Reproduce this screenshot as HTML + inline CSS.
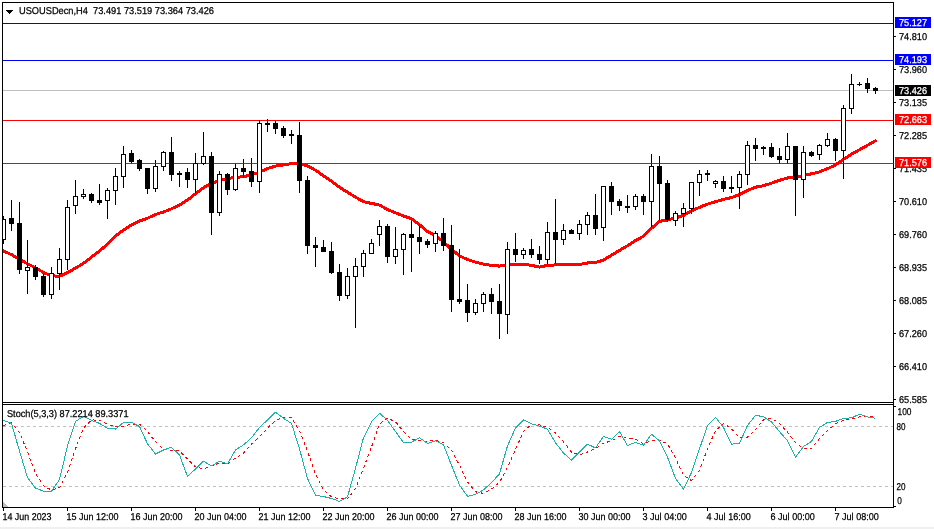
<!DOCTYPE html>
<html><head><meta charset="utf-8"><title>USOUSDecn,H4</title>
<style>html,body{margin:0;padding:0;background:#fff;overflow:hidden}svg{display:block}text{font-family:"Liberation Sans",sans-serif;font-size:9.9px;text-rendering:geometricPrecision}</style>
</head><body>
<svg width="934" height="529" viewBox="0 0 934 529">
<rect x="0" y="0" width="934" height="529" fill="#ffffff"/>
<rect x="0" y="527" width="934" height="2" fill="#f0f0f0"/>
<defs><clipPath id="cm"><rect x="3" y="3" width="890" height="399"/></clipPath><clipPath id="cs"><rect x="3" y="405" width="890" height="102"/></clipPath></defs>
<g shape-rendering="crispEdges">
<rect x="3" y="23" width="890" height="1" fill="#0000ff"/>
<rect x="3" y="60" width="890" height="1" fill="#0000ff"/>
<rect x="3" y="90" width="890" height="1" fill="#c0c0c0"/>
<rect x="3" y="120" width="890" height="1" fill="#ff0000"/>
<rect x="3" y="163" width="890" height="1" fill="#ff0000"/>
</g>
<g clip-path="url(#cm)"><polyline points="3.5,251.0 11.5,254.6 19.5,259.4 27.5,263.8 35.5,267.8 43.5,272.5 51.5,275.8 59.5,276.3 67.5,272.6 75.5,268.1 83.5,263.3 91.5,257.1 99.5,251.1 107.5,244.0 115.5,236.1 123.5,230.1 131.5,224.8 139.5,221.1 147.5,218.2 155.5,214.5 163.5,212.0 171.5,208.8 179.5,205.0 187.5,200.0 195.5,193.8 203.5,187.7 211.5,183.5 219.5,180.5 227.5,178.6 235.5,177.3 243.5,176.8 251.5,174.6 259.5,172.2 267.5,168.5 275.5,166.1 283.5,164.9 291.5,163.6 299.5,163.5 307.5,166.0 315.5,170.2 323.5,175.8 331.5,181.3 339.5,187.3 347.5,192.2 355.5,197.2 363.5,201.7 371.5,203.4 379.5,205.1 387.5,209.5 395.5,212.8 403.5,216.0 411.5,218.7 419.5,224.7 427.5,231.5 435.5,235.5 443.5,241.9 451.5,249.3 459.5,255.9 467.5,259.6 475.5,262.1 483.5,264.1 491.5,265.4 499.5,266.1 507.5,264.9 515.5,264.1 523.5,264.1 531.5,265.4 539.5,267.1 547.5,265.4 555.5,264.9 563.5,264.9 571.5,264.1 579.5,264.4 587.5,263.0 595.5,262.4 603.5,260.1 611.5,255.2 619.5,250.4 627.5,245.7 635.5,240.6 643.5,236.2 651.5,228.3 659.5,221.4 667.5,219.8 675.5,217.9 683.5,215.4 691.5,211.0 699.5,207.3 707.5,204.1 715.5,201.7 723.5,199.4 731.5,197.5 739.5,194.6 747.5,190.5 755.5,187.2 763.5,185.7 771.5,183.2 779.5,180.3 787.5,178.0 795.5,177.5 803.5,175.6 811.5,173.8 819.5,171.9 827.5,168.7 835.5,165.0 843.5,159.3 851.5,154.2 859.5,149.7 867.5,145.3 875.5,140.7" fill="none" stroke="#ff0000" stroke-width="3" stroke-linejoin="round" stroke-linecap="round" shape-rendering="crispEdges"/></g>
<g clip-path="url(#cm)" shape-rendering="crispEdges">
<rect x="3" y="216" width="1" height="28" fill="#000"/>
<rect x="1" y="219" width="5" height="21" fill="#000"/>
<rect x="2" y="220" width="3" height="19" fill="#fff"/>
<rect x="11" y="200" width="1" height="31" fill="#000"/>
<rect x="9" y="218" width="5" height="6" fill="#000"/>
<rect x="19" y="202" width="1" height="72" fill="#000"/>
<rect x="17" y="223" width="5" height="47" fill="#000"/>
<rect x="27" y="240" width="1" height="54" fill="#000"/>
<rect x="25" y="267" width="5" height="4" fill="#000"/>
<rect x="26" y="268" width="3" height="2" fill="#fff"/>
<rect x="35" y="265" width="1" height="15" fill="#000"/>
<rect x="33" y="267" width="5" height="10" fill="#000"/>
<rect x="43" y="274" width="1" height="23" fill="#000"/>
<rect x="41" y="276" width="5" height="19" fill="#000"/>
<rect x="51" y="267" width="1" height="32" fill="#000"/>
<rect x="49" y="273" width="5" height="22" fill="#000"/>
<rect x="50" y="274" width="3" height="20" fill="#fff"/>
<rect x="59" y="248" width="1" height="42" fill="#000"/>
<rect x="57" y="259" width="5" height="15" fill="#000"/>
<rect x="58" y="260" width="3" height="13" fill="#fff"/>
<rect x="67" y="200" width="1" height="70" fill="#000"/>
<rect x="65" y="207" width="5" height="53" fill="#000"/>
<rect x="66" y="208" width="3" height="51" fill="#fff"/>
<rect x="75" y="180" width="1" height="34" fill="#000"/>
<rect x="73" y="196" width="5" height="10" fill="#000"/>
<rect x="74" y="197" width="3" height="8" fill="#fff"/>
<rect x="83" y="189" width="1" height="10" fill="#000"/>
<rect x="81" y="194" width="5" height="3" fill="#000"/>
<rect x="82" y="195" width="3" height="1" fill="#fff"/>
<rect x="91" y="193" width="1" height="10" fill="#000"/>
<rect x="89" y="194" width="5" height="7" fill="#000"/>
<rect x="99" y="184" width="1" height="21" fill="#000"/>
<rect x="97" y="200" width="5" height="3" fill="#000"/>
<rect x="107" y="188" width="1" height="31" fill="#000"/>
<rect x="105" y="190" width="5" height="11" fill="#000"/>
<rect x="106" y="191" width="3" height="9" fill="#fff"/>
<rect x="115" y="168" width="1" height="37" fill="#000"/>
<rect x="113" y="176" width="5" height="15" fill="#000"/>
<rect x="114" y="177" width="3" height="13" fill="#fff"/>
<rect x="123" y="146" width="1" height="42" fill="#000"/>
<rect x="121" y="154" width="5" height="23" fill="#000"/>
<rect x="122" y="155" width="3" height="21" fill="#fff"/>
<rect x="131" y="150" width="1" height="14" fill="#000"/>
<rect x="129" y="153" width="5" height="9" fill="#000"/>
<rect x="139" y="159" width="1" height="12" fill="#000"/>
<rect x="137" y="160" width="5" height="9" fill="#000"/>
<rect x="147" y="168" width="1" height="26" fill="#000"/>
<rect x="145" y="168" width="5" height="21" fill="#000"/>
<rect x="155" y="160" width="1" height="32" fill="#000"/>
<rect x="153" y="166" width="5" height="23" fill="#000"/>
<rect x="154" y="167" width="3" height="21" fill="#fff"/>
<rect x="163" y="151" width="1" height="20" fill="#000"/>
<rect x="161" y="152" width="5" height="15" fill="#000"/>
<rect x="162" y="153" width="3" height="13" fill="#fff"/>
<rect x="171" y="137" width="1" height="44" fill="#000"/>
<rect x="169" y="152" width="5" height="23" fill="#000"/>
<rect x="179" y="171" width="1" height="16" fill="#000"/>
<rect x="177" y="173" width="5" height="2" fill="#000"/>
<rect x="187" y="168" width="1" height="20" fill="#000"/>
<rect x="185" y="172" width="5" height="8" fill="#000"/>
<rect x="195" y="153" width="1" height="40" fill="#000"/>
<rect x="193" y="163" width="5" height="17" fill="#000"/>
<rect x="194" y="164" width="3" height="15" fill="#fff"/>
<rect x="203" y="132" width="1" height="33" fill="#000"/>
<rect x="201" y="156" width="5" height="8" fill="#000"/>
<rect x="202" y="157" width="3" height="6" fill="#fff"/>
<rect x="211" y="152" width="1" height="83" fill="#000"/>
<rect x="209" y="156" width="5" height="57" fill="#000"/>
<rect x="219" y="171" width="1" height="45" fill="#000"/>
<rect x="217" y="174" width="5" height="39" fill="#000"/>
<rect x="218" y="175" width="3" height="37" fill="#fff"/>
<rect x="227" y="173" width="1" height="22" fill="#000"/>
<rect x="225" y="174" width="5" height="16" fill="#000"/>
<rect x="235" y="163" width="1" height="28" fill="#000"/>
<rect x="233" y="168" width="5" height="22" fill="#000"/>
<rect x="234" y="169" width="3" height="20" fill="#fff"/>
<rect x="243" y="159" width="1" height="19" fill="#000"/>
<rect x="241" y="168" width="5" height="4" fill="#000"/>
<rect x="251" y="158" width="1" height="29" fill="#000"/>
<rect x="249" y="171" width="5" height="11" fill="#000"/>
<rect x="259" y="120" width="1" height="73" fill="#000"/>
<rect x="257" y="123" width="5" height="59" fill="#000"/>
<rect x="258" y="124" width="3" height="57" fill="#fff"/>
<rect x="267" y="119" width="1" height="13" fill="#000"/>
<rect x="265" y="123" width="5" height="2" fill="#000"/>
<rect x="275" y="121" width="1" height="13" fill="#000"/>
<rect x="273" y="123" width="5" height="6" fill="#000"/>
<rect x="283" y="126" width="1" height="12" fill="#000"/>
<rect x="281" y="128" width="5" height="8" fill="#000"/>
<rect x="291" y="130" width="1" height="14" fill="#000"/>
<rect x="289" y="134" width="5" height="2" fill="#000"/>
<rect x="299" y="122" width="1" height="71" fill="#000"/>
<rect x="297" y="135" width="5" height="46" fill="#000"/>
<rect x="307" y="176" width="1" height="78" fill="#000"/>
<rect x="305" y="180" width="5" height="66" fill="#000"/>
<rect x="315" y="237" width="1" height="30" fill="#000"/>
<rect x="313" y="245" width="5" height="3" fill="#000"/>
<rect x="323" y="240" width="1" height="12" fill="#000"/>
<rect x="321" y="247" width="5" height="5" fill="#000"/>
<rect x="331" y="242" width="1" height="32" fill="#000"/>
<rect x="329" y="251" width="5" height="22" fill="#000"/>
<rect x="339" y="264" width="1" height="37" fill="#000"/>
<rect x="337" y="272" width="5" height="24" fill="#000"/>
<rect x="347" y="268" width="1" height="31" fill="#000"/>
<rect x="345" y="276" width="5" height="20" fill="#000"/>
<rect x="346" y="277" width="3" height="18" fill="#fff"/>
<rect x="355" y="258" width="1" height="70" fill="#000"/>
<rect x="353" y="266" width="5" height="11" fill="#000"/>
<rect x="354" y="267" width="3" height="9" fill="#fff"/>
<rect x="363" y="250" width="1" height="27" fill="#000"/>
<rect x="361" y="253" width="5" height="14" fill="#000"/>
<rect x="362" y="254" width="3" height="12" fill="#fff"/>
<rect x="371" y="239" width="1" height="15" fill="#000"/>
<rect x="369" y="243" width="5" height="11" fill="#000"/>
<rect x="370" y="244" width="3" height="9" fill="#fff"/>
<rect x="379" y="220" width="1" height="26" fill="#000"/>
<rect x="377" y="226" width="5" height="9" fill="#000"/>
<rect x="378" y="227" width="3" height="7" fill="#fff"/>
<rect x="387" y="224" width="1" height="39" fill="#000"/>
<rect x="385" y="226" width="5" height="31" fill="#000"/>
<rect x="395" y="227" width="1" height="37" fill="#000"/>
<rect x="393" y="249" width="5" height="8" fill="#000"/>
<rect x="394" y="250" width="3" height="6" fill="#fff"/>
<rect x="403" y="233" width="1" height="42" fill="#000"/>
<rect x="401" y="234" width="5" height="16" fill="#000"/>
<rect x="402" y="235" width="3" height="14" fill="#fff"/>
<rect x="411" y="221" width="1" height="51" fill="#000"/>
<rect x="409" y="234" width="5" height="4" fill="#000"/>
<rect x="419" y="224" width="1" height="30" fill="#000"/>
<rect x="417" y="237" width="5" height="5" fill="#000"/>
<rect x="427" y="239" width="1" height="9" fill="#000"/>
<rect x="425" y="241" width="5" height="4" fill="#000"/>
<rect x="435" y="231" width="1" height="21" fill="#000"/>
<rect x="433" y="233" width="5" height="11" fill="#000"/>
<rect x="434" y="234" width="3" height="9" fill="#fff"/>
<rect x="443" y="218" width="1" height="33" fill="#000"/>
<rect x="441" y="233" width="5" height="13" fill="#000"/>
<rect x="451" y="225" width="1" height="87" fill="#000"/>
<rect x="449" y="245" width="5" height="55" fill="#000"/>
<rect x="459" y="249" width="1" height="55" fill="#000"/>
<rect x="457" y="299" width="5" height="3" fill="#000"/>
<rect x="467" y="284" width="1" height="38" fill="#000"/>
<rect x="465" y="300" width="5" height="13" fill="#000"/>
<rect x="475" y="299" width="1" height="16" fill="#000"/>
<rect x="473" y="303" width="5" height="10" fill="#000"/>
<rect x="474" y="304" width="3" height="8" fill="#fff"/>
<rect x="483" y="292" width="1" height="20" fill="#000"/>
<rect x="481" y="294" width="5" height="10" fill="#000"/>
<rect x="482" y="295" width="3" height="8" fill="#fff"/>
<rect x="491" y="288" width="1" height="26" fill="#000"/>
<rect x="489" y="294" width="5" height="8" fill="#000"/>
<rect x="499" y="284" width="1" height="55" fill="#000"/>
<rect x="497" y="301" width="5" height="13" fill="#000"/>
<rect x="507" y="242" width="1" height="92" fill="#000"/>
<rect x="505" y="249" width="5" height="66" fill="#000"/>
<rect x="506" y="250" width="3" height="64" fill="#fff"/>
<rect x="515" y="233" width="1" height="29" fill="#000"/>
<rect x="513" y="249" width="5" height="6" fill="#000"/>
<rect x="523" y="248" width="1" height="11" fill="#000"/>
<rect x="521" y="250" width="5" height="5" fill="#000"/>
<rect x="522" y="251" width="3" height="3" fill="#fff"/>
<rect x="531" y="239" width="1" height="19" fill="#000"/>
<rect x="529" y="249" width="5" height="6" fill="#000"/>
<rect x="539" y="246" width="1" height="18" fill="#000"/>
<rect x="537" y="254" width="5" height="6" fill="#000"/>
<rect x="547" y="222" width="1" height="42" fill="#000"/>
<rect x="545" y="232" width="5" height="28" fill="#000"/>
<rect x="546" y="233" width="3" height="26" fill="#fff"/>
<rect x="555" y="199" width="1" height="65" fill="#000"/>
<rect x="553" y="232" width="5" height="8" fill="#000"/>
<rect x="563" y="224" width="1" height="21" fill="#000"/>
<rect x="561" y="230" width="5" height="10" fill="#000"/>
<rect x="562" y="231" width="3" height="8" fill="#fff"/>
<rect x="571" y="229" width="1" height="5" fill="#000"/>
<rect x="569" y="230" width="5" height="4" fill="#000"/>
<rect x="579" y="220" width="1" height="20" fill="#000"/>
<rect x="577" y="224" width="5" height="10" fill="#000"/>
<rect x="578" y="225" width="3" height="8" fill="#fff"/>
<rect x="587" y="212" width="1" height="23" fill="#000"/>
<rect x="585" y="215" width="5" height="10" fill="#000"/>
<rect x="586" y="216" width="3" height="8" fill="#fff"/>
<rect x="595" y="194" width="1" height="41" fill="#000"/>
<rect x="593" y="215" width="5" height="14" fill="#000"/>
<rect x="603" y="186" width="1" height="55" fill="#000"/>
<rect x="601" y="186" width="5" height="42" fill="#000"/>
<rect x="602" y="187" width="3" height="40" fill="#fff"/>
<rect x="611" y="182" width="1" height="33" fill="#000"/>
<rect x="609" y="186" width="5" height="16" fill="#000"/>
<rect x="619" y="199" width="1" height="12" fill="#000"/>
<rect x="617" y="201" width="5" height="5" fill="#000"/>
<rect x="627" y="195" width="1" height="18" fill="#000"/>
<rect x="625" y="206" width="5" height="2" fill="#000"/>
<rect x="635" y="194" width="1" height="16" fill="#000"/>
<rect x="633" y="196" width="5" height="11" fill="#000"/>
<rect x="634" y="197" width="3" height="9" fill="#fff"/>
<rect x="643" y="194" width="1" height="21" fill="#000"/>
<rect x="641" y="196" width="5" height="6" fill="#000"/>
<rect x="651" y="154" width="1" height="73" fill="#000"/>
<rect x="649" y="166" width="5" height="36" fill="#000"/>
<rect x="650" y="167" width="3" height="34" fill="#fff"/>
<rect x="659" y="156" width="1" height="65" fill="#000"/>
<rect x="657" y="166" width="5" height="18" fill="#000"/>
<rect x="667" y="180" width="1" height="42" fill="#000"/>
<rect x="665" y="183" width="5" height="37" fill="#000"/>
<rect x="675" y="211" width="1" height="15" fill="#000"/>
<rect x="673" y="213" width="5" height="8" fill="#000"/>
<rect x="674" y="214" width="3" height="6" fill="#fff"/>
<rect x="683" y="203" width="1" height="24" fill="#000"/>
<rect x="681" y="208" width="5" height="6" fill="#000"/>
<rect x="682" y="209" width="3" height="4" fill="#fff"/>
<rect x="691" y="182" width="1" height="32" fill="#000"/>
<rect x="689" y="182" width="5" height="27" fill="#000"/>
<rect x="690" y="183" width="3" height="25" fill="#fff"/>
<rect x="699" y="170" width="1" height="26" fill="#000"/>
<rect x="697" y="174" width="5" height="9" fill="#000"/>
<rect x="698" y="175" width="3" height="7" fill="#fff"/>
<rect x="707" y="170" width="1" height="11" fill="#000"/>
<rect x="705" y="173" width="5" height="2" fill="#000"/>
<rect x="715" y="180" width="1" height="8" fill="#000"/>
<rect x="713" y="181" width="5" height="3" fill="#000"/>
<rect x="714" y="182" width="3" height="1" fill="#fff"/>
<rect x="723" y="176" width="1" height="16" fill="#000"/>
<rect x="721" y="181" width="5" height="8" fill="#000"/>
<rect x="731" y="176" width="1" height="17" fill="#000"/>
<rect x="729" y="187" width="5" height="2" fill="#000"/>
<rect x="739" y="171" width="1" height="38" fill="#000"/>
<rect x="737" y="174" width="5" height="14" fill="#000"/>
<rect x="738" y="175" width="3" height="12" fill="#fff"/>
<rect x="747" y="141" width="1" height="44" fill="#000"/>
<rect x="745" y="145" width="5" height="30" fill="#000"/>
<rect x="746" y="146" width="3" height="28" fill="#fff"/>
<rect x="755" y="138" width="1" height="23" fill="#000"/>
<rect x="753" y="145" width="5" height="4" fill="#000"/>
<rect x="763" y="146" width="1" height="9" fill="#000"/>
<rect x="761" y="147" width="5" height="2" fill="#000"/>
<rect x="771" y="143" width="1" height="15" fill="#000"/>
<rect x="769" y="147" width="5" height="10" fill="#000"/>
<rect x="779" y="148" width="1" height="16" fill="#000"/>
<rect x="777" y="156" width="5" height="4" fill="#000"/>
<rect x="787" y="133" width="1" height="31" fill="#000"/>
<rect x="785" y="146" width="5" height="14" fill="#000"/>
<rect x="786" y="147" width="3" height="12" fill="#fff"/>
<rect x="795" y="146" width="1" height="70" fill="#000"/>
<rect x="793" y="146" width="5" height="34" fill="#000"/>
<rect x="803" y="146" width="1" height="52" fill="#000"/>
<rect x="801" y="152" width="5" height="28" fill="#000"/>
<rect x="802" y="153" width="3" height="26" fill="#fff"/>
<rect x="811" y="151" width="1" height="6" fill="#000"/>
<rect x="809" y="152" width="5" height="4" fill="#000"/>
<rect x="819" y="144" width="1" height="16" fill="#000"/>
<rect x="817" y="145" width="5" height="10" fill="#000"/>
<rect x="818" y="146" width="3" height="8" fill="#fff"/>
<rect x="827" y="133" width="1" height="14" fill="#000"/>
<rect x="825" y="139" width="5" height="7" fill="#000"/>
<rect x="826" y="140" width="3" height="5" fill="#fff"/>
<rect x="835" y="138" width="1" height="23" fill="#000"/>
<rect x="833" y="139" width="5" height="12" fill="#000"/>
<rect x="843" y="105" width="1" height="74" fill="#000"/>
<rect x="841" y="108" width="5" height="43" fill="#000"/>
<rect x="842" y="109" width="3" height="41" fill="#fff"/>
<rect x="851" y="74" width="1" height="40" fill="#000"/>
<rect x="849" y="84" width="5" height="25" fill="#000"/>
<rect x="850" y="85" width="3" height="23" fill="#fff"/>
<rect x="859" y="82" width="1" height="4" fill="#000"/>
<rect x="857" y="84" width="5" height="1" fill="#000"/>
<rect x="867" y="78" width="1" height="15" fill="#000"/>
<rect x="865" y="83" width="5" height="6" fill="#000"/>
<rect x="875" y="87" width="1" height="7" fill="#000"/>
<rect x="873" y="88" width="5" height="3" fill="#000"/>
</g>
<g shape-rendering="crispEdges">
<line x1="3" y1="426.5" x2="893" y2="426.5" stroke="#c0c0c0" stroke-width="1" stroke-dasharray="3 3"/>
<line x1="3" y1="486.5" x2="893" y2="486.5" stroke="#c0c0c0" stroke-width="1" stroke-dasharray="3 3"/>
</g>
<g clip-path="url(#cs)" shape-rendering="crispEdges"><polyline points="3.5,425.5 11.5,423.0 19.5,432.6 27.5,452.0 35.5,473.4 43.5,485.7 51.5,490.2 59.5,487.7 67.5,472.4 75.5,448.9 83.5,427.9 91.5,419.8 99.5,420.4 107.5,424.0 115.5,426.9 123.5,426.1 131.5,424.0 139.5,424.0 147.5,431.6 155.5,441.8 163.5,449.3 171.5,450.4 179.5,451.0 187.5,459.1 195.5,466.9 203.5,468.9 211.5,465.7 219.5,463.2 227.5,463.8 235.5,458.1 243.5,453.0 251.5,444.2 259.5,436.7 267.5,428.1 275.5,420.4 283.5,417.3 291.5,417.9 299.5,430.6 307.5,451.0 315.5,474.4 323.5,489.8 331.5,496.9 339.5,498.9 347.5,498.9 355.5,488.7 363.5,468.3 371.5,447.0 379.5,424.0 387.5,418.3 395.5,421.8 403.5,431.6 411.5,439.3 419.5,440.8 427.5,441.2 435.5,440.4 443.5,442.8 451.5,450.4 459.5,465.3 467.5,482.0 475.5,491.8 483.5,493.4 491.5,489.1 499.5,482.2 507.5,467.3 515.5,449.3 523.5,431.6 531.5,424.0 539.5,424.9 547.5,427.5 555.5,433.0 563.5,441.8 571.5,452.0 579.5,455.0 587.5,452.0 595.5,448.5 603.5,443.2 611.5,440.8 619.5,436.3 627.5,438.3 635.5,439.3 643.5,443.8 651.5,440.4 659.5,440.4 667.5,443.8 675.5,458.1 683.5,475.1 691.5,480.6 699.5,470.4 707.5,448.9 715.5,430.6 723.5,423.4 731.5,428.8 739.5,437.7 747.5,437.1 755.5,429.6 763.5,419.8 771.5,418.3 779.5,423.4 787.5,432.2 795.5,442.8 803.5,448.3 811.5,448.3 819.5,438.7 827.5,430.6 835.5,423.8 843.5,420.4 851.5,419.3 859.5,416.9 867.5,416.3 875.5,416.7" fill="none" stroke="#ff0000" stroke-width="1" stroke-dasharray="3 3"/>
<polyline points="3.5,420.4 11.5,423.4 19.5,451.0 27.5,477.5 35.5,488.1 43.5,491.2 51.5,491.2 59.5,479.6 67.5,445.9 75.5,421.4 83.5,416.3 91.5,420.4 99.5,423.4 107.5,428.1 115.5,429.1 123.5,422.4 131.5,422.4 139.5,426.5 147.5,443.8 155.5,454.0 163.5,450.0 171.5,447.3 179.5,455.0 187.5,476.5 195.5,468.9 203.5,461.2 211.5,465.9 219.5,461.2 227.5,463.8 235.5,450.0 243.5,444.9 251.5,437.7 259.5,427.5 267.5,420.0 275.5,412.2 283.5,418.3 291.5,423.4 299.5,448.9 307.5,478.5 315.5,495.3 323.5,496.5 331.5,498.5 339.5,501.4 347.5,496.9 355.5,468.3 363.5,437.7 371.5,421.8 379.5,413.2 387.5,420.4 395.5,431.6 403.5,442.4 411.5,442.2 419.5,437.7 427.5,443.4 435.5,440.8 443.5,444.9 451.5,465.3 459.5,485.0 467.5,496.3 475.5,494.4 483.5,489.8 491.5,482.6 499.5,473.8 507.5,445.9 515.5,427.9 523.5,420.0 531.5,423.8 539.5,426.1 547.5,429.1 555.5,442.8 563.5,453.0 571.5,460.2 579.5,452.0 587.5,444.2 595.5,447.9 603.5,436.3 611.5,439.3 619.5,431.6 627.5,445.5 635.5,442.4 643.5,445.3 651.5,434.2 659.5,440.8 667.5,457.1 675.5,478.5 683.5,489.3 691.5,472.4 699.5,448.9 707.5,425.5 715.5,417.3 723.5,427.5 731.5,444.2 739.5,443.2 747.5,425.5 755.5,415.3 763.5,416.7 771.5,422.0 779.5,431.6 787.5,440.8 795.5,457.1 803.5,446.5 811.5,441.4 819.5,427.5 827.5,422.4 835.5,421.4 843.5,418.3 851.5,417.9 859.5,414.2 867.5,416.9 875.5,418.3" fill="none" stroke="#20b2aa" stroke-width="1"/></g>
<g shape-rendering="crispEdges" fill="#000">
<rect x="2" y="2" width="892" height="1"/>
<rect x="2" y="402" width="892" height="1"/>
<rect x="2" y="404" width="892" height="1"/>
<rect x="2" y="507" width="892" height="1"/>
<rect x="2" y="2" width="1" height="506"/>
<rect x="893" y="2" width="1" height="506"/>
<polygon points="3,502 3,507 8,507" fill="#c0c0c0"/>
<rect x="6" y="10" width="7" height="1"/><rect x="7" y="11" width="5" height="1"/><rect x="8" y="12" width="3" height="1"/><rect x="9" y="13" width="1" height="1"/>
<rect x="894" y="36" width="2" height="1"/>
<rect x="894" y="69" width="2" height="1"/>
<rect x="894" y="102" width="2" height="1"/>
<rect x="894" y="135" width="2" height="1"/>
<rect x="894" y="168" width="2" height="1"/>
<rect x="894" y="201" width="2" height="1"/>
<rect x="894" y="234" width="2" height="1"/>
<rect x="894" y="267" width="2" height="1"/>
<rect x="894" y="300" width="2" height="1"/>
<rect x="894" y="333" width="2" height="1"/>
<rect x="894" y="366" width="2" height="1"/>
<rect x="894" y="399" width="2" height="1"/>
<rect x="894" y="406" width="2" height="1"/><rect x="894" y="506" width="2" height="1"/>
<rect x="3" y="508" width="1" height="3"/>
<rect x="67" y="508" width="1" height="3"/>
<rect x="131" y="508" width="1" height="3"/>
<rect x="195" y="508" width="1" height="3"/>
<rect x="259" y="508" width="1" height="3"/>
<rect x="323" y="508" width="1" height="3"/>
<rect x="387" y="508" width="1" height="3"/>
<rect x="451" y="508" width="1" height="3"/>
<rect x="515" y="508" width="1" height="3"/>
<rect x="579" y="508" width="1" height="3"/>
<rect x="643" y="508" width="1" height="3"/>
<rect x="707" y="508" width="1" height="3"/>
<rect x="771" y="508" width="1" height="3"/>
<rect x="835" y="508" width="1" height="3"/>
</g>
<text x="899" y="40" textLength="28" lengthAdjust="spacingAndGlyphs" fill="#000" stroke="#000" stroke-width="0.25">74.810</text>
<text x="899" y="73" textLength="28" lengthAdjust="spacingAndGlyphs" fill="#000" stroke="#000" stroke-width="0.25">73.960</text>
<text x="899" y="106" textLength="28" lengthAdjust="spacingAndGlyphs" fill="#000" stroke="#000" stroke-width="0.25">73.135</text>
<text x="899" y="139" textLength="28" lengthAdjust="spacingAndGlyphs" fill="#000" stroke="#000" stroke-width="0.25">72.285</text>
<text x="899" y="172" textLength="28" lengthAdjust="spacingAndGlyphs" fill="#000" stroke="#000" stroke-width="0.25">71.435</text>
<text x="899" y="205" textLength="28" lengthAdjust="spacingAndGlyphs" fill="#000" stroke="#000" stroke-width="0.25">70.610</text>
<text x="899" y="238" textLength="28" lengthAdjust="spacingAndGlyphs" fill="#000" stroke="#000" stroke-width="0.25">69.760</text>
<text x="899" y="271" textLength="28" lengthAdjust="spacingAndGlyphs" fill="#000" stroke="#000" stroke-width="0.25">68.935</text>
<text x="899" y="304" textLength="28" lengthAdjust="spacingAndGlyphs" fill="#000" stroke="#000" stroke-width="0.25">68.085</text>
<text x="899" y="337" textLength="28" lengthAdjust="spacingAndGlyphs" fill="#000" stroke="#000" stroke-width="0.25">67.260</text>
<text x="899" y="370" textLength="28" lengthAdjust="spacingAndGlyphs" fill="#000" stroke="#000" stroke-width="0.25">66.410</text>
<text x="899" y="403" textLength="28" lengthAdjust="spacingAndGlyphs" fill="#000" stroke="#000" stroke-width="0.25">65.585</text>
<rect x="895" y="17" width="36" height="11" fill="#0000ff" shape-rendering="crispEdges"/>
<text x="899" y="26" textLength="28" lengthAdjust="spacingAndGlyphs" fill="#fff" stroke="#fff" stroke-width="0.25">75.127</text>
<rect x="895" y="54" width="36" height="11" fill="#0000ff" shape-rendering="crispEdges"/>
<text x="899" y="63" textLength="28" lengthAdjust="spacingAndGlyphs" fill="#fff" stroke="#fff" stroke-width="0.25">74.193</text>
<rect x="895" y="85" width="36" height="11" fill="#000000" shape-rendering="crispEdges"/>
<text x="899" y="94" textLength="28" lengthAdjust="spacingAndGlyphs" fill="#fff" stroke="#fff" stroke-width="0.25">73.426</text>
<rect x="895" y="114" width="36" height="11" fill="#ff0000" shape-rendering="crispEdges"/>
<text x="899" y="123" textLength="28" lengthAdjust="spacingAndGlyphs" fill="#fff" stroke="#fff" stroke-width="0.25">72.663</text>
<rect x="895" y="157" width="36" height="11" fill="#ff0000" shape-rendering="crispEdges"/>
<text x="899" y="166" textLength="28" lengthAdjust="spacingAndGlyphs" fill="#fff" stroke="#fff" stroke-width="0.25">71.576</text>
<text x="19" y="14" textLength="195" lengthAdjust="spacingAndGlyphs" fill="#000" stroke="#000" stroke-width="0.25">USOUSDecn,H4&#160; 73.491 73.519 73.364 73.426</text>
<text x="7" y="417" textLength="121.5" lengthAdjust="spacingAndGlyphs" fill="#000" stroke="#000" stroke-width="0.25">Stoch(5,3,3) 87.2214 89.3371</text>
<text x="897.5" y="415" textLength="14" lengthAdjust="spacingAndGlyphs" fill="#000" stroke="#000" stroke-width="0.25">100</text>
<text x="896.5" y="430" textLength="9" lengthAdjust="spacingAndGlyphs" fill="#000" stroke="#000" stroke-width="0.25">80</text>
<text x="896.5" y="490" textLength="9" lengthAdjust="spacingAndGlyphs" fill="#000" stroke="#000" stroke-width="0.25">20</text>
<text x="897.3" y="504" textLength="4.6" lengthAdjust="spacingAndGlyphs" fill="#000" stroke="#000" stroke-width="0.25">0</text>
<text x="2.5" y="520" textLength="49" lengthAdjust="spacingAndGlyphs" fill="#000" stroke="#000" stroke-width="0.25">14 Jun 2023</text>
<text x="66.5" y="520" textLength="52" lengthAdjust="spacingAndGlyphs" fill="#000" stroke="#000" stroke-width="0.25">15 Jun 12:00</text>
<text x="130.5" y="520" textLength="52" lengthAdjust="spacingAndGlyphs" fill="#000" stroke="#000" stroke-width="0.25">16 Jun 20:00</text>
<text x="194.5" y="520" textLength="52" lengthAdjust="spacingAndGlyphs" fill="#000" stroke="#000" stroke-width="0.25">20 Jun 04:00</text>
<text x="258.5" y="520" textLength="52" lengthAdjust="spacingAndGlyphs" fill="#000" stroke="#000" stroke-width="0.25">21 Jun 12:00</text>
<text x="322.5" y="520" textLength="52" lengthAdjust="spacingAndGlyphs" fill="#000" stroke="#000" stroke-width="0.25">22 Jun 20:00</text>
<text x="386.5" y="520" textLength="52" lengthAdjust="spacingAndGlyphs" fill="#000" stroke="#000" stroke-width="0.25">26 Jun 00:00</text>
<text x="450.5" y="520" textLength="52" lengthAdjust="spacingAndGlyphs" fill="#000" stroke="#000" stroke-width="0.25">27 Jun 08:00</text>
<text x="514.5" y="520" textLength="52" lengthAdjust="spacingAndGlyphs" fill="#000" stroke="#000" stroke-width="0.25">28 Jun 16:00</text>
<text x="578.5" y="520" textLength="52" lengthAdjust="spacingAndGlyphs" fill="#000" stroke="#000" stroke-width="0.25">30 Jun 00:00</text>
<text x="642.5" y="520" textLength="44.3" lengthAdjust="spacingAndGlyphs" fill="#000" stroke="#000" stroke-width="0.25">3 Jul 04:00</text>
<text x="706.5" y="520" textLength="44.3" lengthAdjust="spacingAndGlyphs" fill="#000" stroke="#000" stroke-width="0.25">4 Jul 16:00</text>
<text x="770.5" y="520" textLength="44.3" lengthAdjust="spacingAndGlyphs" fill="#000" stroke="#000" stroke-width="0.25">6 Jul 00:00</text>
<text x="834.5" y="520" textLength="44.3" lengthAdjust="spacingAndGlyphs" fill="#000" stroke="#000" stroke-width="0.25">7 Jul 08:00</text>
</svg></body></html>
